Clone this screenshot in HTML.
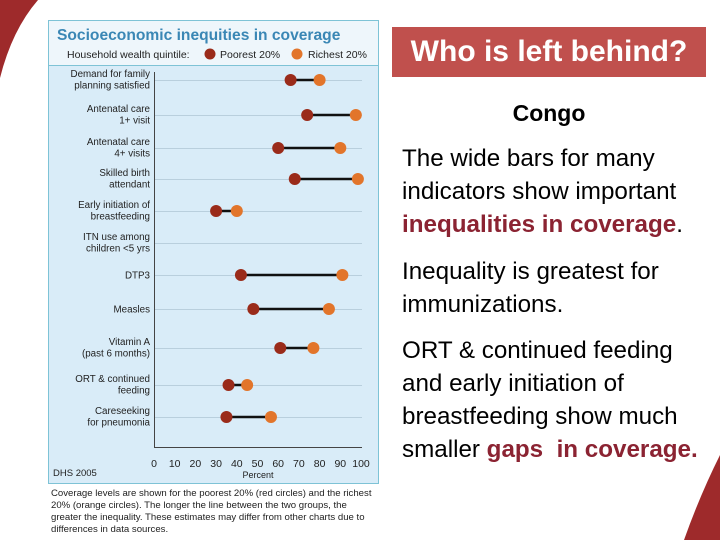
<!DOCTYPE html>
<html><head><meta charset="utf-8"><style>
body{margin:0;width:720px;height:540px;overflow:hidden;background:#fff;position:relative;font-family:"Liberation Sans",sans-serif}
.t{position:absolute;left:402px;font-size:24.2px;line-height:33px;color:#000;white-space:nowrap}
.hl{color:#8b2332;font-weight:bold}
</style></head><body>
<svg width="720" height="540" style="position:absolute;left:0;top:0">
<path d="M0,0 L38,0 Q12,30 0,78 Z" fill="#9e2a2b"/>
<path d="M720,455 Q700,495 684,540 L720,540 Z" fill="#9e2a2b"/>
</svg>
<svg id="chart" width="720" height="540" style="position:absolute;left:0;top:0" font-family="Liberation Sans, sans-serif">
<rect x="48.5" y="20.5" width="330" height="463" fill="#d9ecf8" stroke="#7ec3d6"/>
<rect x="49" y="21" width="329" height="44" fill="#eef6fb"/>
<line x1="49" y1="65.5" x2="378" y2="65.5" stroke="#7ec3d6"/>
<text x="57" y="40" font-size="15.6" font-weight="bold" fill="#3a87b5">Socioeconomic inequities in coverage</text>
<text x="67" y="58" font-size="10.5" fill="#222">Household wealth quintile:</text>
<circle cx="210" cy="54" r="5.5" fill="#9a2b1a"/>
<text x="220" y="58" font-size="10.5" fill="#222">Poorest 20%</text>
<circle cx="297" cy="54" r="5.5" fill="#e2752b"/>
<text x="308" y="58" font-size="10.5" fill="#222">Richest 20%</text>
<g id="plot"></g>
<text x="53" y="476" font-size="9.5" fill="#222">DHS 2005</text>
<text x="258" y="478" font-size="9" fill="#222" text-anchor="middle">Percent</text>
<text font-size="9.6" fill="#222">
<tspan x="51" y="496">Coverage levels are shown for the poorest 20% (red circles) and the richest</tspan>
<tspan x="51" y="508">20% (orange circles). The longer the line between the two groups, the</tspan>
<tspan x="51" y="520">greater the inequality. These estimates may differ from other charts due to</tspan>
<tspan x="51" y="532">differences in data sources.</tspan></text>
</svg>
<div style="position:absolute;left:392px;top:27px;width:314px;height:50px;background:#c0504d;color:#fff;font-size:30px;font-weight:bold;text-align:center;line-height:50px">Who is left behind?</div>
<div class="t" style="top:97px;left:392px;width:314px;text-align:center;font-weight:bold;font-size:23px">Congo</div>
<div class="t" style="top:142px">The wide bars for many<br>indicators show important<br><span class="hl">inequalities in coverage</span>.</div>
<div class="t" style="top:255px">Inequality is greatest for<br>immunizations.</div>
<div class="t" style="top:334px">ORT &amp; continued feeding<br>and early initiation of<br>breastfeeding show much<br>smaller <span class="hl">gaps &nbsp;in coverage.</span></div>
<script>
const categories=[["Demand for family","planning satisfied"],["Antenatal care","1+ visit"],["Antenatal care","4+ visits"],["Skilled birth","attendant"],["Early initiation of","breastfeeding"],["ITN use among","children <5 yrs"],["DTP3"],["Measles"],["Vitamin A","(past 6 months)"],["ORT & continued","feeding"],["Careseeking","for pneumonia"]];
const poorest=[66,74,60,68,30,null,42,48,61,36,35];
const richest=[80,97.5,90,98.5,40,null,91,84.5,77,45,56.5];
const ticks=[0,10,20,30,40,50,60,70,80,90,100];
const rowY=[80,115,148,179,211,243,275,309,348,385,417];
const NS="http://www.w3.org/2000/svg";
const g=document.getElementById('plot');
const x=v=>154+v*2.07;
function mk(t,a){const e=document.createElementNS(NS,t);for(const k in a)e.setAttribute(k,a[k]);g.appendChild(e);return e;}
const ax=mk('line',{x1:154.5,y1:72,x2:154.5,y2:447.5,stroke:'#444','stroke-width':1});


const bx=mk('line',{x1:154,y1:447.5,x2:362,y2:447.5,stroke:'#444','stroke-width':1});


ticks.forEach(t=>{const e=mk('text',{x:x(t),y:467,'font-size':10.5,fill:'#222','text-anchor':'middle'});e.textContent=t;

});
categories.forEach((c,i)=>{const y=rowY[i];
const gl=mk('line',{x1:155,y1:y+0.5,x2:362,y2:y+0.5,stroke:'#b9cfdd','stroke-width':1});


const lab=mk('text',{'font-size':9.8,fill:'#222','text-anchor':'end'});


const y0=c.length==2?y-3:y+3.5;
c.forEach((s,j)=>{const ts=document.createElementNS(NS,'tspan');ts.setAttribute('x',150);ts.setAttribute('y',y0+j*11.5);ts.textContent=s;lab.appendChild(ts);});
if(poorest[i]==null)return;
const l=mk('line',{x1:x(poorest[i]),y1:y,x2:x(richest[i]),y2:y,stroke:'#111','stroke-width':2.5});


const p=mk('circle',{cx:x(poorest[i]),cy:y,r:6,fill:'#9a2b1a'});


const r=mk('circle',{cx:x(richest[i]),cy:y,r:6,fill:'#e2752b'});

});
</script>
</body></html>
